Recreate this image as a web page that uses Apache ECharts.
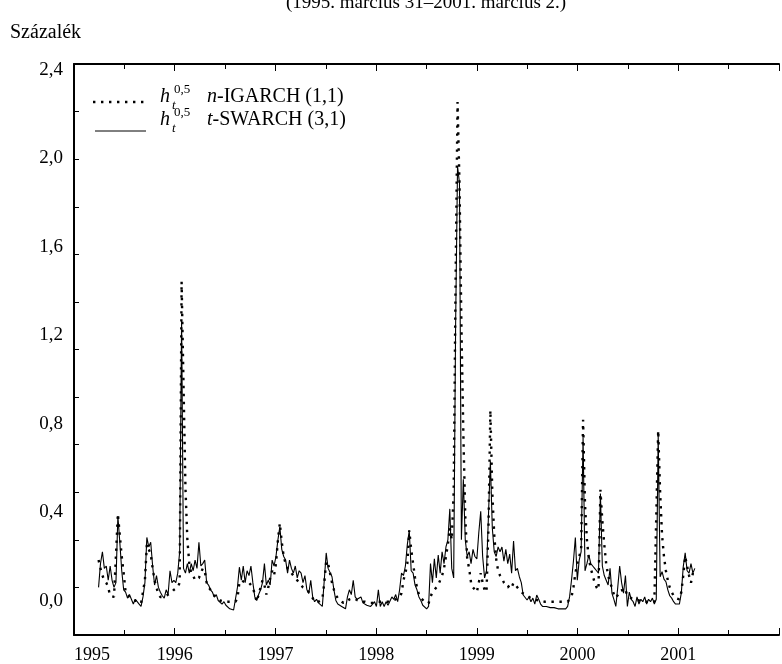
<!DOCTYPE html>
<html>
<head>
<meta charset="utf-8">
<script src="https://cdn.jsdelivr.net/npm/echarts@6/dist/echarts.min.js"></script>
<style>
  html, body { margin: 0; padding: 0; background: #fff; }
  #chart { width: 782px; height: 664px; }
</style>
</head>
<body>
<div id="chart"></div>
<script>
// Weekly observations, first week ending 1995-03-31
const firstWeek = '1995-03-31';
const yearLabels = [1995, 1996, 1997, 1998, 1999, 2000, 2001];
const yLabelValues = [0, 0.4, 0.8, 1.2, 1.6, 2.0, 2.4];

// h_t^0,5  n-IGARCH (1,1)
const igarch = [
  0.315,0.28,0.25,0.23,0.22,0.20,0.165,0.165,0.16,0.16,
  0.51,0.42,0.33,0.26,0.18,0.17,0.16,0.155,0.15,0.145,
  0.14,0.135,0.133,0.13,0.23,0.38,0.36,0.34,0.28,0.23,
  0.20,0.17,0.16,0.16,0.16,0.165,0.17,0.176,0.18,0.19,
  0.19,0.20,0.22,1.485,1.05,0.62,0.40,0.30,0.26,0.25,
  0.23,0.23,0.24,0.26,0.28,0.27,0.22,0.20,0.19,0.176,
  0.165,0.155,0.15,0.145,0.14,0.14,0.14,0.14,0.14,0.14,
  0.14,0.14,0.155,0.22,0.23,0.23,0.22,0.22,0.22,0.22,
  0.20,0.17,0.14,0.14,0.20,0.23,0.21,0.17,0.20,0.24,
  0.27,0.25,0.30,0.40,0.47,0.39,0.33,0.30,0.28,0.27,
  0.26,0.25,0.24,0.23,0.22,0.21,0.20,0.20,0.19,0.19,
  0.17,0.155,0.14,0.14,0.14,0.145,0.15,0.22,0.31,0.30,
  0.26,0.22,0.19,0.168,0.155,0.145,0.14,0.135,0.133,0.14,
  0.15,0.15,0.155,0.15,0.147,0.145,0.14,0.14,0.14,0.135,
  0.135,0.135,0.135,0.14,0.14,0.14,0.14,0.14,0.14,0.14,
  0.14,0.14,0.145,0.15,0.15,0.155,0.16,0.176,0.23,0.26,
  0.30,0.44,0.36,0.30,0.24,0.20,0.17,0.155,0.147,0.14,
  0.135,0.133,0.16,0.18,0.18,0.20,0.21,0.23,0.25,0.28,
  0.33,0.38,0.45,0.40,0.60,1.50,2.24,1.90,1.30,0.85,
  0.50,0.32,0.28,0.22,0.20,0.19,0.18,0.18,0.26,0.22,
  0.19,0.18,0.45,0.945,0.60,0.42,0.32,0.27,0.25,0.24,
  0.22,0.21,0.20,0.21,0.20,0.22,0.21,0.20,0.19,0.18,
  0.175,0.17,0.165,0.16,0.155,0.15,0.15,0.147,0.145,0.145,
  0.14,0.14,0.14,0.14,0.14,0.14,0.14,0.14,0.14,0.14,
  0.14,0.14,0.14,0.14,0.145,0.16,0.20,0.26,0.30,0.33,
  0.36,0.905,0.55,0.40,0.32,0.28,0.25,0.22,0.20,0.19,
  0.61,0.48,0.38,0.30,0.25,0.22,0.20,0.17,0.156,0.16,
  0.18,0.19,0.18,0.19,0.165,0.16,0.155,0.15,0.15,0.147,
  0.145,0.145,0.14,0.14,0.14,0.14,0.14,0.14,0.14,0.14,
  0.86,0.60,0.42,0.33,0.27,0.23,0.20,0.18,0.165,0.155,
  0.15,0.15,0.18,0.25,0.33,0.29,0.25,0.22,0.26,0.28
];

// h_t^0,5  t-SWARCH (3,1)
const swarch = [
  0.20,0.30,0.35,0.28,0.29,0.23,0.29,0.23,0.20,0.22,
  0.50,0.39,0.27,0.19,0.18,0.155,0.17,0.15,0.13,0.15,
  0.14,0.13,0.12,0.16,0.22,0.41,0.37,0.39,0.29,0.21,
  0.25,0.20,0.18,0.165,0.155,0.19,0.17,0.27,0.22,0.23,
  0.22,0.26,0.35,1.32,0.28,0.26,0.30,0.26,0.30,0.27,
  0.315,0.28,0.39,0.29,0.30,0.315,0.22,0.21,0.19,0.18,
  0.16,0.17,0.145,0.15,0.13,0.14,0.125,0.12,0.11,0.11,
  0.105,0.11,0.20,0.285,0.23,0.29,0.22,0.27,0.25,0.29,
  0.22,0.16,0.145,0.17,0.19,0.22,0.30,0.21,0.23,0.21,
  0.315,0.29,0.33,0.40,0.455,0.36,0.33,0.315,0.26,0.315,
  0.28,0.26,0.29,0.24,0.27,0.26,0.22,0.25,0.19,0.175,
  0.23,0.16,0.14,0.15,0.135,0.14,0.12,0.23,0.345,0.28,
  0.28,0.245,0.19,0.145,0.13,0.125,0.12,0.115,0.11,0.16,
  0.19,0.17,0.23,0.16,0.15,0.145,0.16,0.135,0.13,0.125,
  0.12,0.12,0.13,0.14,0.12,0.19,0.12,0.14,0.12,0.14,
  0.125,0.13,0.16,0.15,0.17,0.14,0.19,0.26,0.25,0.29,
  0.38,0.44,0.27,0.26,0.21,0.19,0.16,0.145,0.125,0.12,
  0.11,0.12,0.30,0.22,0.32,0.24,0.336,0.26,0.35,0.30,
  0.37,0.40,0.53,0.28,0.24,1.30,1.97,1.90,0.40,0.655,
  0.40,0.33,0.35,0.30,0.36,0.33,0.32,0.43,0.52,0.33,
  0.24,0.27,0.50,0.73,0.45,0.35,0.33,0.37,0.35,0.37,
  0.31,0.36,0.30,0.34,0.26,0.395,0.27,0.28,0.245,0.22,
  0.168,0.16,0.147,0.16,0.14,0.155,0.13,0.168,0.15,0.13,
  0.12,0.115,0.12,0.125,0.115,0.12,0.115,0.11,0.11,0.11,
  0.11,0.11,0.11,0.12,0.16,0.23,0.31,0.41,0.23,0.315,
  0.35,0.83,0.27,0.30,0.336,0.30,0.29,0.28,0.27,0.26,
  0.595,0.29,0.25,0.23,0.21,0.28,0.175,0.15,0.12,0.20,
  0.29,0.22,0.176,0.25,0.12,0.18,0.15,0.14,0.12,0.16,
  0.13,0.15,0.14,0.16,0.13,0.15,0.14,0.155,0.13,0.15,
  0.84,0.245,0.266,0.235,0.224,0.19,0.165,0.155,0.14,0.13,
  0.126,0.13,0.177,0.287,0.345,0.27,0.26,0.30,0.26,0.28
];

// Convert a UTC timestamp to a fractional calendar year
function toYearFraction(ms) {
  const d = new Date(ms);
  const y = d.getUTCFullYear();
  const start = Date.UTC(y, 0, 1);
  const end = Date.UTC(y + 1, 0, 1);
  return y + (ms - start) / (end - start);
}

const t0 = Date.parse(firstWeek + 'T00:00:00Z');
const weekDays = 7 * 86400000;
const weekPos = swarch.map((_, i) => toYearFraction(t0 + i * weekDays));
const pairs = arr => arr.map((v, i) => [weekPos[i], v]);

const serif = '"Liberation Serif", "Times New Roman", serif';
const black = '#000';

const chart = echarts.init(document.getElementById('chart'), null, { renderer: 'canvas' });

const yearAxisBase = {
  type: 'value',
  min: 1995,
  max: 2002,
  interval: 1,
  axisLine: { show: true, lineStyle: { color: black, width: 2 } },
  splitLine: { show: false },
  axisTick: { show: true, inside: true, length: 7, lineStyle: { color: black, width: 1 } },
  minorTick: { show: true, splitNumber: 2, length: 5, lineStyle: { color: black, width: 1 } }
};

chart.setOption({
  animation: false,
  backgroundColor: '#fff',
  grid: [
    { left: 74, top: 64, width: 715, height: 571 },
    { left: 74, top: 70, width: 10, height: 531 }
  ],
  xAxis: [
    Object.assign({}, yearAxisBase, {
      gridIndex: 0,
      position: 'bottom',
      axisLabel: {
        show: true,
        margin: 11,
        color: black,
        fontFamily: serif,
        fontSize: 18,
        alignMinLabel: 'left',
        formatter: v => (yearLabels.indexOf(v) >= 0 ? String(v) : '')
      }
    }),
    Object.assign({}, yearAxisBase, {
      gridIndex: 0,
      position: 'top',
      axisLabel: { show: false }
    }),
    { type: 'value', gridIndex: 1, show: false, min: 0, max: 1 }
  ],
  yAxis: [
    {
      type: 'value',
      gridIndex: 0,
      min: 0,
      max: 2.4,
      interval: 0.2,
      axisLine: { show: true, lineStyle: { color: black, width: 2 } },
      axisTick: { show: true, inside: true, length: 5, lineStyle: { color: black, width: 1 } },
      axisLabel: { show: false },
      splitLine: { show: false }
    },
    {
      type: 'value',
      gridIndex: 1,
      min: 0,
      max: 2.4,
      interval: 0.4,
      axisLine: { show: false },
      axisTick: { show: false },
      splitLine: { show: false },
      axisLabel: {
        show: true,
        margin: 11,
        color: black,
        fontFamily: serif,
        fontSize: 19,
        formatter: v => {
          const hit = yLabelValues.find(x => Math.abs(x - v) < 1e-6);
          return hit === undefined ? '' : hit.toFixed(1).replace('.', ',');
        }
      }
    }
  ],
  series: [
    {
      name: 't-SWARCH (3,1)',
      type: 'line',
      xAxisIndex: 0,
      yAxisIndex: 0,
      data: pairs(swarch),
      showSymbol: false,
      symbol: 'none',
      lineStyle: { color: black, width: 1.1 },
      z: 3
    },
    {
      name: 'n-IGARCH (1,1)',
      type: 'line',
      xAxisIndex: 0,
      yAxisIndex: 0,
      data: pairs(igarch),
      showSymbol: false,
      symbol: 'none',
      lineStyle: { color: black, width: 2.4, type: [2.4, 5.6], cap: 'butt' },
      z: 4
    }
  ],
  graphic: [
    {
      type: 'text', x: 426, y: 13,
      style: { text: '(1995. március 31–2001. március 2.)', font: '19px ' + serif, fill: black, align: 'center', verticalAlign: 'bottom' }
    },
    {
      type: 'text', x: 10, y: 33,
      style: { text: 'Százalék', font: '20px ' + serif, fill: black, align: 'left', verticalAlign: 'middle' }
    },
    // legend: dotted row
    {
      type: 'line', shape: { x1: 93, y1: 102, x2: 147, y2: 102 },
      style: { stroke: black, lineWidth: 2.4, lineDash: [2.4, 5.6] }
    },
    {
      type: 'text', x: 160, y: 97,
      style: { text: 'h', font: 'italic 20px ' + serif, fill: black, verticalAlign: 'middle' }
    },
    {
      type: 'text', x: 172, y: 106,
      style: { text: 't', font: 'italic 13px ' + serif, fill: black, verticalAlign: 'middle' }
    },
    {
      type: 'text', x: 174, y: 90,
      style: { text: '0,5', font: '13px ' + serif, fill: black, verticalAlign: 'middle' }
    },
    {
      type: 'text', x: 207, y: 97,
      style: {
        text: '{i|n}-IGARCH (1,1)', font: '20px ' + serif, fill: black, verticalAlign: 'middle',
        rich: { i: { fontStyle: 'italic', fontFamily: serif, fontSize: 20 } }
      }
    },
    // legend: solid row
    {
      type: 'line', shape: { x1: 95, y1: 131, x2: 146, y2: 131 },
      style: { stroke: black, lineWidth: 1 }
    },
    {
      type: 'text', x: 160, y: 120,
      style: { text: 'h', font: 'italic 20px ' + serif, fill: black, verticalAlign: 'middle' }
    },
    {
      type: 'text', x: 172, y: 129,
      style: { text: 't', font: 'italic 13px ' + serif, fill: black, verticalAlign: 'middle' }
    },
    {
      type: 'text', x: 174, y: 113,
      style: { text: '0,5', font: '13px ' + serif, fill: black, verticalAlign: 'middle' }
    },
    {
      type: 'text', x: 207, y: 120,
      style: {
        text: '{i|t}-SWARCH (3,1)', font: '20px ' + serif, fill: black, verticalAlign: 'middle',
        rich: { i: { fontStyle: 'italic', fontFamily: serif, fontSize: 20 } }
      }
    }
  ]
});
</script>
</body>
</html>
